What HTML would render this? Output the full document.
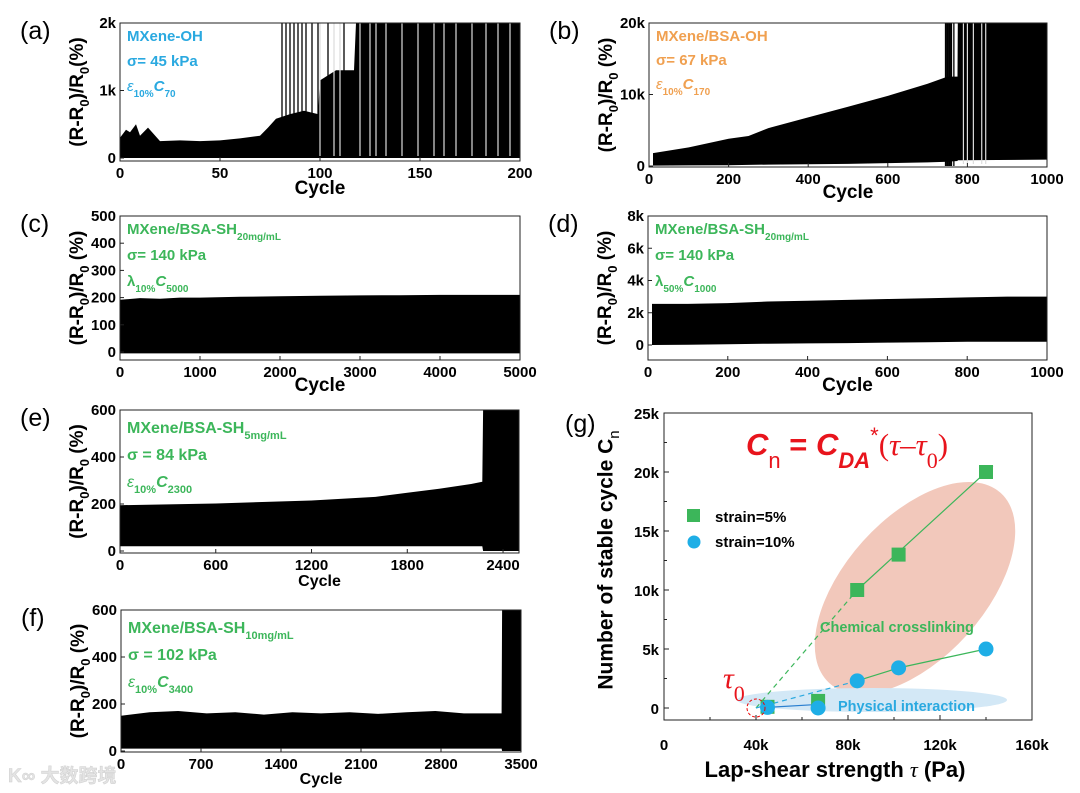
<!DOCTYPE html>
<html><head><meta charset="utf-8"><style>
html,body{margin:0;padding:0;background:#fff;}
svg{display:block;font-family:"Liberation Sans","Noto Sans CJK SC",sans-serif;}
.tk{font-size:15px;font-weight:bold;fill:#000;}
.ttl{font-weight:bold;fill:#000;}
</style></head><body>
<svg id="fig" width="1080" height="793" viewBox="0 0 1080 793" xmlns="http://www.w3.org/2000/svg"></svg>
<script>
// ---------- data ----------
// (a) MXene-OH
const aCycles = [0, 3, 5, 8, 10, 14, 20, 30, 40, 50, 60, 70, 74, 78, 85, 92, 99, 100, 108, 117, 118, 200];
const aUpper  = [300, 420, 380, 500, 330, 450, 250, 260, 250, 260, 290, 330, 450, 580, 650, 700, 650, 1150, 1300, 1300, 2000, 2000];
const aLower  = [0, 0, 0, 0, 0, 0, 0, 0, 0, 0, 0, 0, 0, 0, 0, 0, 0, 0, 0, 0, 0, 0];
const aSpikes = [81, 83, 85, 87, 89, 91, 93, 96, 99, 104, 112];
const aGaps   = [100, 107, 110, 120, 125, 128, 133, 141, 149, 157, 162, 168, 176, 183, 189, 195];
// (b) MXene/BSA-OH
const bCycles = [10, 100, 200, 250, 300, 400, 500, 600, 700, 750, 775, 776, 1000];
const bUpper  = [1800, 2600, 3800, 4200, 5300, 6800, 8300, 9800, 11500, 12500, 12500, 20000, 20000];
const bLower  = [50, 80, 100, 150, 200, 250, 300, 400, 500, 600, 700, 800, 900];
const bSpikes = [745, 748, 750, 753, 755, 758, 760, 766];
const bGaps   = [790, 800, 815, 836, 846];
// (c) 20 mg/mL, 10%
const cCycles = [0, 250, 500, 750, 1000, 1500, 2000, 2500, 3000, 3500, 4000, 4500, 5000];
const cUpper  = [192, 198, 196, 200, 200, 203, 205, 207, 208, 209, 210, 210, 210];
const cLower  = [-5, -5, -5, -5, -5, -5, -5, -5, -5, -5, -5, -5, -5];
// (d) 20 mg/mL, 50%
const dCycles = [10, 100, 200, 300, 400, 500, 600, 700, 800, 900, 1000];
const dUpper  = [2550, 2550, 2600, 2700, 2750, 2800, 2850, 2900, 2950, 3000, 3000];
const dLower  = [0, 20, 50, 80, 100, 120, 150, 170, 200, 200, 200];
// (e) 5 mg/mL
const eCycles = [0, 600, 1200, 1600, 1800, 2000, 2200, 2270, 2275, 2500];
const eUpper  = [195, 202, 215, 230, 248, 265, 285, 295, 600, 600];
const eLower  = [20, 20, 20, 20, 20, 20, 20, 20, 0, 0];
// (f) 10 mg/mL
const fCycles = [0, 250, 500, 750, 1000, 1250, 1500, 1750, 2000, 2250, 2500, 2750, 3000, 3330, 3335, 3500];
const fUpper  = [150, 165, 170, 160, 165, 155, 165, 160, 165, 158, 165, 170, 160, 160, 600, 600];
const fLower  = [10, 10, 10, 10, 10, 10, 10, 10, 10, 10, 10, 10, 10, 10, 0, 0];
// (g) stable cycles vs lap-shear
const gTau5   = [45000, 67000, 84000, 102000, 140000];
const gCn5    = [100, 600, 10000, 13000, 20000];
const gTau10  = [45000, 67000, 84000, 102000, 140000];
const gCn10   = [50, 0, 2300, 3400, 5000];
const gTau0   = 40000;

const NS = "http://www.w3.org/2000/svg";
const svg = document.getElementById('fig');
function mk(tag, attrs, parent, text) {
  const e = document.createElementNS(NS, tag);
  for (const k in attrs) e.setAttribute(k, attrs[k]);
  if (text !== undefined) e.textContent = text;
  (parent || svg).appendChild(e);
  return e;
}

function panel(p) {
  const g = mk('g', {});
  
  
  const sx = v => p.L + (v - p.xMin) / (p.xMax - p.xMin) * (p.R - p.L);
  const sy = v => p.Z - v / p.yMax * (p.Z - p.T);
  const clamp = y => Math.max(p.T, Math.min(p.B, y));
  let pts = [];
  for (let i = 0; i < p.cx.length; i++) pts.push(sx(p.cx[i]).toFixed(1) + ',' + clamp(sy(p.up[i])).toFixed(1));
  for (let i = p.cx.length - 1; i >= 0; i--) pts.push(sx(p.cx[i]).toFixed(1) + ',' + clamp(sy(p.lo[i])).toFixed(1));
  const env = mk('polygon', {points: pts.join(' '), fill: '#000'}, g);
  
  
  (p.spikes || []).forEach(c => {
    const l = mk('line', {x1: sx(c), x2: sx(c), y1: p.T, y2: sy(0), stroke: '#000', 'stroke-width': 1.3}, g);
    
    
  });
  (p.gaps || []).forEach(c => {
    const l = mk('line', {x1: sx(c), x2: sx(c), y1: p.T, y2: sy(0) - 2, stroke: '#ddd', 'stroke-width': 1.2}, g);
    
    
  });
  const fr = mk('rect', {x: p.L, y: p.T, width: p.R - p.L, height: p.B - p.T, fill: 'none', stroke: '#222', 'stroke-width': 1}, g);
  
  
  p.xt.forEach(v => {
    mk('line', {x1: sx(v), x2: sx(v), y1: p.B, y2: p.B - 4, stroke: '#222'}, g);
    const t = mk('text', {x: sx(v), y: p.B + 17, 'text-anchor': 'middle', class: 'tk'}, g, v);
    
    
  });
  p.yt.forEach((v, i) => {
    mk('line', {x1: p.L, x2: p.L + 4, y1: sy(v), y2: sy(v), stroke: '#222'}, g);
    const t = mk('text', {x: p.L - 4, y: sy(v) + 5, 'text-anchor': 'end', class: 'tk'}, g, p.ytl[i]);
    
    
  });
  const xt = mk('text', {x: (p.L + p.R) / 2, y: p.B + p.cyOff, 'text-anchor': 'middle', class: 'ttl', 'font-size': p.cfs}, g, 'Cycle');
  
  
  const yc = (p.T + p.B) / 2, yx = p.L - 42;
  const yt = mk('text', {x: yx, y: yc, transform: 'rotate(-90 ' + yx + ' ' + yc + ')', 'text-anchor': 'middle', class: 'ttl', 'font-size': 19, 'dominant-baseline': 'middle'}, g);
  
  
  yt.innerHTML = '(R-R<tspan baseline-shift="sub" font-size="13">0</tspan>)/R<tspan baseline-shift="sub" font-size="13">0</tspan>' + p.pct;
  const pl = mk('text', {x: p.L - 100, y: p.T + 16, 'font-size': 25, fill: '#000'}, g, '(' + p.id + ')');
  
  
  const an = mk('g', {fill: p.col, 'font-weight': 'bold', 'font-size': p.afs}, g);
  
  
  p.ann.forEach((h, i) => { const t = mk('text', {x: p.L + 7, y: p.T + p.a0 + i * p.adl}, an); t.innerHTML = h; });
}

const sub = (s, fs) => '<tspan baseline-shift="sub" font-size="' + fs + '">' + s + '</tspan>';

panel({id: 'a', L: 120, R: 520, T: 23, B: 161, Z: 158, xMin: 0, xMax: 200, yMax: 2000,
  cx: aCycles, up: aUpper, lo: aLower, spikes: aSpikes, gaps: aGaps,
  xt: [0, 50, 100, 150, 200], yt: [0, 1000, 2000], ytl: ['0', '1k', '2k'],
  cyOff: 33, cfs: 19, pct: '(%)', col: '#2aa9e0', afs: 15, a0: 18, adl: 25,
  ann: ['MXene-OH', 'σ= 45 kPa', '<tspan font-style="italic" font-weight="normal">ε</tspan>' + sub('10%', 10) + '<tspan font-style="italic">C</tspan>' + sub('70', 10)]});
panel({id: 'b', L: 649, R: 1047, T: 23, B: 167, Z: 166, xMin: 0, xMax: 1000, yMax: 20000,
  cx: bCycles, up: bUpper, lo: bLower, spikes: bSpikes, gaps: bGaps,
  xt: [0, 200, 400, 600, 800, 1000], yt: [0, 10000, 20000], ytl: ['0', '10k', '20k'],
  cyOff: 31, cfs: 19, pct: ' (%)', col: '#f0a050', afs: 15, a0: 18, adl: 24,
  ann: ['MXene/BSA-OH', 'σ= 67 kPa', '<tspan font-style="italic" font-weight="normal">ε</tspan>' + sub('10%', 10) + '<tspan font-style="italic">C</tspan>' + sub('170', 10)]});
panel({id: 'c', L: 120, R: 520, T: 216, B: 360, Z: 352, xMin: 0, xMax: 5000, yMax: 500,
  cx: cCycles, up: cUpper, lo: cLower,
  xt: [0, 1000, 2000, 3000, 4000, 5000], yt: [0, 100, 200, 300, 400, 500], ytl: ['0', '100', '200', '300', '400', '500'],
  cyOff: 31, cfs: 19, pct: ' (%)', col: '#3cb65a', afs: 15, a0: 18, adl: 26,
  ann: ['MXene/BSA-SH' + sub('20mg/mL', 10), 'σ= 140 kPa', 'λ' + sub('10%', 10) + '<tspan font-style="italic">C</tspan>' + sub('5000', 10)]});
panel({id: 'd', L: 648, R: 1047, T: 216, B: 360, Z: 345, xMin: 0, xMax: 1000, yMax: 8000,
  cx: dCycles, up: dUpper, lo: dLower,
  xt: [0, 200, 400, 600, 800, 1000], yt: [0, 2000, 4000, 6000, 8000], ytl: ['0', '2k', '4k', '6k', '8k'],
  cyOff: 31, cfs: 19, pct: ' (%)', col: '#3cb65a', afs: 15, a0: 18, adl: 26,
  ann: ['MXene/BSA-SH' + sub('20mg/mL', 10), 'σ= 140 kPa', 'λ' + sub('50%', 10) + '<tspan font-style="italic">C</tspan>' + sub('1000', 10)]});
panel({id: 'e', L: 120, R: 519, T: 410, B: 553, Z: 551, xMin: 0, xMax: 2500, yMax: 600,
  cx: eCycles, up: eUpper, lo: eLower,
  xt: [0, 600, 1200, 1800, 2400], yt: [0, 200, 400, 600], ytl: ['0', '200', '400', '600'],
  cyOff: 33, cfs: 16, pct: ' (%)', col: '#3cb65a', afs: 16, a0: 23, adl: 27,
  ann: ['MXene/BSA-SH' + sub('5mg/mL', 11), 'σ = 84 kPa', '<tspan font-style="italic" font-weight="normal">ε</tspan>' + sub('10%', 11) + '<tspan font-style="italic">C</tspan>' + sub('2300', 11)]});
panel({id: 'f', L: 121, R: 521, T: 610, B: 752, Z: 751, xMin: 0, xMax: 3500, yMax: 600,
  cx: fCycles, up: fUpper, lo: fLower,
  xt: [0, 700, 1400, 2100, 2800, 3500], yt: [0, 200, 400, 600], ytl: ['0', '200', '400', '600'],
  cyOff: 32, cfs: 16, pct: ' (%)', col: '#3cb65a', afs: 16, a0: 23, adl: 27,
  ann: ['MXene/BSA-SH' + sub('10mg/mL', 11), 'σ = 102 kPa', '<tspan font-style="italic" font-weight="normal">ε</tspan>' + sub('10%', 11) + '<tspan font-style="italic">C</tspan>' + sub('3400', 11)]});

// ---------- panel g ----------
(function () {
  const L = 664, R = 1032, T = 413, B = 720, Z = 708;
  const sx = v => L + v / 160000 * (R - L);
  const sy = v => Z - v / 25000 * (Z - T);
  const g = mk('g', {});
  
  
  const e1 = mk('ellipse', {cx: 915, cy: 588, rx: 128, ry: 70, transform: 'rotate(-48 915 588)', fill: '#f2c8bb'}, g);
  
  
  const e2 = mk('ellipse', {cx: 872, cy: 700, rx: 135, ry: 12, fill: '#d3e8f6'}, g);
  
  
  const gl = mk('line', {x1: sx(gTau0), y1: sy(0), x2: sx(gTau5[2]), y2: sy(gCn5[2]), stroke: '#3cb65a', 'stroke-width': 1.2, 'stroke-dasharray': '5,4'}, g);
  
  
  const slope5 = (gCn5[4] - gCn5[2]) / (gTau5[4] - gTau5[2]);
  const gl2 = mk('line', {x1: sx(gTau5[2]), y1: sy(gCn5[2]), x2: sx(143000), y2: sy(gCn5[4] + slope5 * 3000), stroke: '#3cb65a', 'stroke-width': 1.2}, g);
  
  
  const bl = mk('line', {x1: sx(gTau0), y1: sy(0), x2: sx(gTau10[2]), y2: sy(gCn10[2]), stroke: '#2aa9e0', 'stroke-width': 1.2, 'stroke-dasharray': '5,4'}, g);
  
  
  const bp = [2, 3, 4].map(i => sx(gTau10[i]) + ',' + sy(gCn10[i])).join(' ');
  const bl2 = mk('polyline', {points: bp, fill: 'none', stroke: '#3cb65a', 'stroke-width': 1.2}, g);
  
  
  const bl3 = mk('line', {x1: sx(gTau10[0]), y1: sy(gCn10[0]), x2: sx(gTau10[1]), y2: sy(300), stroke: '#2a7fd0', 'stroke-width': 1.2}, g);
  
  
  gTau5.forEach((t, i) => {
    const r = mk('rect', {x: sx(t) - 7, y: sy(gCn5[i]) - 7, width: 14, height: 14, fill: '#3cb65a'}, g);
    
    
  });
  gTau10.forEach((t, i) => {
    const c = mk('circle', {cx: sx(t), cy: sy(gCn10[i]), r: 7.5, fill: '#1eaee6'}, g);
    
    
  });
  const rc = mk('circle', {cx: sx(gTau0), cy: sy(0), r: 9, fill: 'none', stroke: '#e00', 'stroke-width': 1, 'stroke-dasharray': '3,2'}, g);
  
  
  mk('rect', {x: L, y: T, width: R - L, height: B - T, fill: 'none', stroke: '#222'}, g);
  const xTicks = [0, 40000, 80000, 120000, 160000], xLabs = ['0', '40k', '80k', '120k', '160k'];
  xTicks.forEach((v, i) => {
    mk('line', {x1: sx(v), x2: sx(v), y1: B, y2: B - 5, stroke: '#222'}, g);
    if (v < 160000) mk('line', {x1: sx(v + 20000), x2: sx(v + 20000), y1: B, y2: B - 3, stroke: '#222'}, g);
    const t = mk('text', {x: sx(v), y: B + 30, 'text-anchor': 'middle', class: 'tk', 'font-size': 17}, g, xLabs[i]);
    
    
  });
  const yTicks = [0, 5000, 10000, 15000, 20000, 25000], yLabs = ['0', '5k', '10k', '15k', '20k', '25k'];
  yTicks.forEach((v, i) => {
    mk('line', {x1: L, x2: L + 5, y1: sy(v), y2: sy(v), stroke: '#222'}, g);
    if (v < 25000) mk('line', {x1: L, x2: L + 3, y1: sy(v + 2500), y2: sy(v + 2500), stroke: '#222'}, g);
    const t = mk('text', {x: L - 5, y: sy(v) + 6, 'text-anchor': 'end', class: 'tk', 'font-size': 17}, g, yLabs[i]);
    
    
  });
  const xt = mk('text', {x: 835, y: 777, 'text-anchor': 'middle', class: 'ttl', 'font-size': 22}, g);
  xt.innerHTML = 'Lap-shear strength <tspan font-style="italic" font-family="Liberation Serif, serif" font-weight="normal">τ</tspan> (Pa)';
  
  
  const yt = mk('text', {x: 607, y: 560, transform: 'rotate(-90 607 560)', 'text-anchor': 'middle', 'dominant-baseline': 'middle', class: 'ttl', 'font-size': 21}, g);
  yt.innerHTML = 'Number of stable cycle C<tspan baseline-shift="sub" font-size="15" font-weight="normal">n</tspan>';
  
  
  const pl = mk('text', {x: 565, y: 432, 'font-size': 25}, g, '(g)');
  
  
  const fm = mk('text', {x: 746, y: 455, fill: '#e8141c', 'font-size': 31, 'font-weight': 'bold'}, g);
  fm.innerHTML = '<tspan font-style="italic">C</tspan><tspan baseline-shift="sub" font-size="22" font-weight="normal">n</tspan> = <tspan font-style="italic">C</tspan><tspan baseline-shift="sub" font-size="22" font-style="italic">DA</tspan><tspan baseline-shift="super" font-size="22" font-weight="normal">*</tspan><tspan font-family="Liberation Serif, serif" font-weight="normal">(<tspan font-style="italic">τ</tspan>–<tspan font-style="italic">τ</tspan><tspan baseline-shift="sub" font-size="22">0</tspan>)</tspan>';
  
  
  const t0 = mk('text', {x: 723, y: 688, fill: '#e8141c', 'font-size': 30, 'font-family': 'Liberation Serif, serif', 'font-style': 'italic'}, g);
  t0.innerHTML = 'τ<tspan baseline-shift="sub" font-size="22" font-style="normal">0</tspan>';
  
  
  const ct = mk('text', {x: 820, y: 632, fill: '#3cb65a', 'font-size': 14.5, 'font-weight': 'bold'}, g, 'Chemical crosslinking');
  
  
  const pt = mk('text', {x: 838, y: 711, fill: '#2aa9e0', 'font-size': 14.5, 'font-weight': 'bold'}, g, 'Physical interaction');
  
  
  const lg = mk('g', {}, g);
  
  
  mk('rect', {x: 687, y: 509, width: 13, height: 13, fill: '#3cb65a'}, lg);
  mk('text', {x: 715, y: 522, class: 'ttl', 'font-size': 15}, lg, 'strain=5%');
  mk('circle', {cx: 694, cy: 542, r: 6.5, fill: '#1eaee6'}, lg);
  mk('text', {x: 715, y: 547, class: 'ttl', 'font-size': 15}, lg, 'strain=10%');
})();

const wm = mk('text', {x: 8, y: 782, fill: '#e4e4e4', 'font-size': 19, 'font-weight': 'bold', stroke: '#cfcfcf', 'stroke-width': 0.5}, svg, 'K∞ 大数跨境');


</script>
</body></html>
